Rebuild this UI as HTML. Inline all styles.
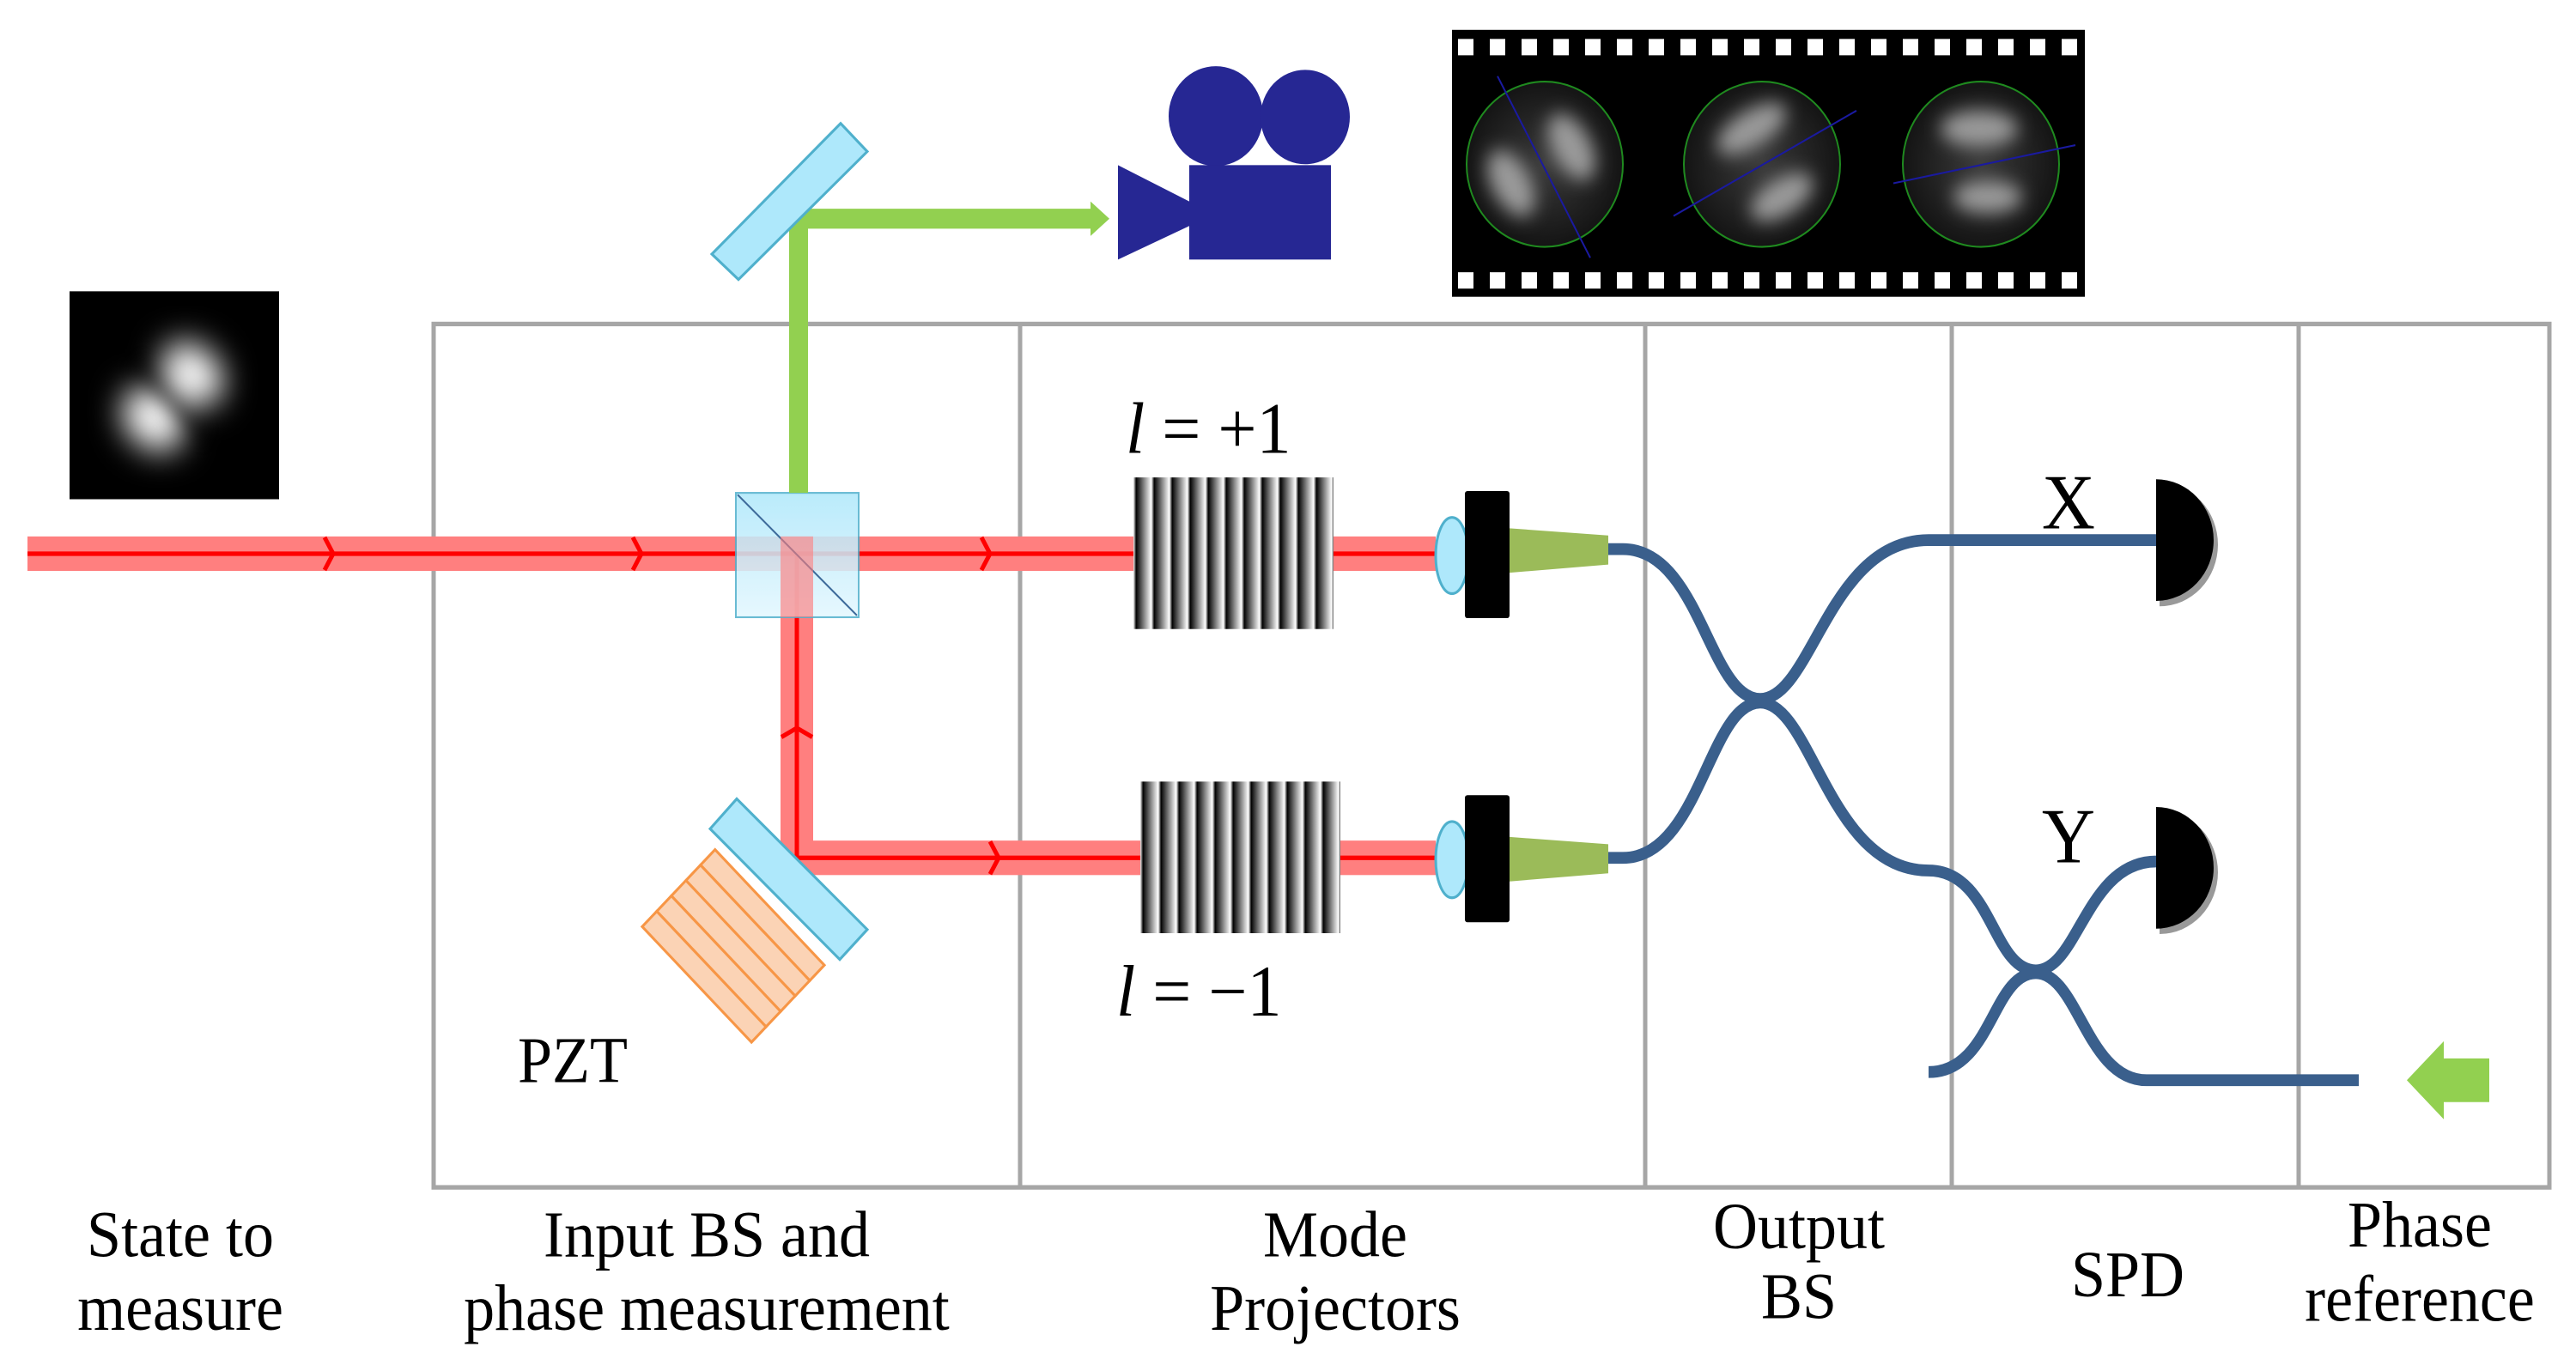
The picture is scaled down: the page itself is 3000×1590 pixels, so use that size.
<!DOCTYPE html>
<html><head><meta charset="utf-8"><style>
html,body{margin:0;padding:0;background:#fff}
svg{display:block}
text{font-family:"Liberation Serif","DejaVu Serif",serif;fill:#000}
</style></head><body>
<svg width="3000" height="1590" viewBox="0 0 3000 1590" xmlns="http://www.w3.org/2000/svg" font-family="Liberation Serif, DejaVu Serif, serif">
<defs>
<filter id="b1" x="-50%" y="-50%" width="200%" height="200%"><feGaussianBlur stdDeviation="18"/></filter>
<filter id="b2" x="-50%" y="-50%" width="200%" height="200%"><feGaussianBlur stdDeviation="10"/></filter>
<linearGradient id="cube" x1="0" y1="0" x2="0" y2="1"><stop offset="0" stop-color="#aee8fb"/><stop offset="1" stop-color="#e3f7fe"/></linearGradient>
<radialGradient id="dk"><stop offset="0" stop-color="#3a3a3a"/><stop offset="1" stop-color="#141414"/></radialGradient>
<pattern id="hp" width="21" height="200" patternUnits="userSpaceOnUse"><rect width="21" height="200" fill="url(#hg)"/></pattern>
<linearGradient id="hg" x1="0" x2="1"><stop offset="0" stop-color="#000"/><stop offset="0.85" stop-color="#fff"/><stop offset="1" stop-color="#111"/></linearGradient>
</defs>
<g transform="translate(0,2) scale(1,1.0575)">
<g fill="none" stroke="#a6a6a6" stroke-width="5">
<rect x="505" y="355" width="2464" height="951"/>
<line x1="1188" y1="355" x2="1188" y2="1306"/>
<line x1="1916" y1="355" x2="1916" y2="1306"/>
<line x1="2273" y1="355" x2="2273" y2="1306"/>
<line x1="2677" y1="355" x2="2677" y2="1306"/>
</g>

<rect x="81" y="319" width="244" height="229" fill="#000"/>
<g filter="url(#b1)"><ellipse cx="224" cy="410" rx="40" ry="30" transform="rotate(40 224 410)" fill="#fff"/><ellipse cx="178" cy="460" rx="40" ry="30" transform="rotate(40 178 460)" fill="#fff"/></g>
<line x1="140" y1="380" x2="270" y2="510" stroke="#000" stroke-width="8" filter="url(#b2)"/>

<g>
<rect x="32" y="589" width="1640" height="38" fill="#ff7f7f"/>
<rect x="909" y="608" width="38" height="354" fill="#ff7f7f"/>
<rect x="909" y="924" width="763" height="38" fill="#ff7f7f"/>
<line x1="32" y1="608" x2="1672" y2="608" stroke="#f00" stroke-width="5"/>
<polyline points="928,608 928,943 1672,943" fill="none" stroke="#f00" stroke-width="5"/>
<g fill="none" stroke="#f00" stroke-width="5">
<polyline points="378,590 388,608 378,626"/>
<polyline points="737,590 747,608 737,626"/>
<polyline points="1143,590 1153,608 1143,626"/>
<polyline points="1153,925 1163,943 1153,961"/>
<polyline points="910,810 928,800 946,810"/>
</g>
</g>

<rect x="857" y="541" width="143" height="137" fill="url(#cube)" stroke="#4fb0cc" stroke-width="2" opacity="0.85"/>
<line x1="859" y1="543" x2="998" y2="676" stroke="#3d6a9a" stroke-width="2"/>
<rect x="909" y="589" width="38" height="89" fill="#ff7f7f" opacity="0.6"/>

<polyline points="930,541 930,239 1275,239" fill="none" stroke="#92d050" stroke-width="22"/>
<polygon points="1270,220 1292,239 1270,258" fill="#92d050"/>

<polygon points="979,134 1010,165 860,306 829,278" fill="#aee8fb" stroke="#4fb0cc" stroke-width="3"/>

<g transform="translate(14,-14) rotate(45 893 1001)">
<g fill="#fbd3b5" stroke="#f79646" stroke-width="3">
<rect x="803" y="1016" width="180" height="24"/>
<rect x="803" y="1040" width="180" height="24"/>
<rect x="803" y="1064" width="180" height="24"/>
<rect x="803" y="1088" width="180" height="24"/>
<rect x="803" y="1112" width="180" height="24"/>
</g>
</g>
<polygon points="858,878 1010,1022 978,1055 827,911" fill="#aee8fb" stroke="#4fb0cc" stroke-width="3"/>
<text x="603" y="1190" font-size="72">PZT</text>

<g fill="#262793">
<circle cx="1416" cy="126" r="55"/>
<circle cx="1520" cy="127" r="52"/>
<polygon points="1302,180 1385,220 1385,247 1302,284"/>
<rect x="1385" y="180" width="165" height="104"/>
</g>

<rect x="1691" y="31" width="737" height="294" fill="#000"/>
<g fill="#fff" id="holes">
<rect x="1698" y="41" width="18" height="18"/><rect x="1735" y="41" width="18" height="18"/><rect x="1772" y="41" width="18" height="18"/><rect x="1809" y="41" width="18" height="18"/><rect x="1846" y="41" width="18" height="18"/><rect x="1883" y="41" width="18" height="18"/><rect x="1920" y="41" width="18" height="18"/><rect x="1957" y="41" width="18" height="18"/><rect x="1994" y="41" width="18" height="18"/><rect x="2031" y="41" width="18" height="18"/><rect x="2068" y="41" width="18" height="18"/><rect x="2105" y="41" width="18" height="18"/><rect x="2142" y="41" width="18" height="18"/><rect x="2179" y="41" width="18" height="18"/><rect x="2216" y="41" width="18" height="18"/><rect x="2253" y="41" width="18" height="18"/><rect x="2290" y="41" width="18" height="18"/><rect x="2327" y="41" width="18" height="18"/><rect x="2364" y="41" width="18" height="18"/><rect x="2401" y="41" width="18" height="18"/>
</g>
<use href="#holes" y="257"/>
<g>
<circle cx="1799" cy="179" r="91" fill="url(#dk)" stroke="#1f8a1f" stroke-width="2"/>
<circle cx="2052" cy="179" r="91" fill="url(#dk)" stroke="#1f8a1f" stroke-width="2"/>
<circle cx="2307" cy="179" r="91" fill="url(#dk)" stroke="#1f8a1f" stroke-width="2"/>
<g filter="url(#b2)" fill="#9a9a9a">
<ellipse cx="1830" cy="160" rx="22" ry="40" transform="rotate(-30 1830 160)"/>
<ellipse cx="1760" cy="200" rx="22" ry="40" transform="rotate(-30 1760 200)"/>
<ellipse cx="2040" cy="140" rx="45" ry="20" transform="rotate(-30 2040 140)"/>
<ellipse cx="2075" cy="215" rx="40" ry="20" transform="rotate(-30 2075 215)"/>
<ellipse cx="2305" cy="140" rx="45" ry="20"/>
<ellipse cx="2315" cy="215" rx="40" ry="18"/>
</g>
<g stroke="#1a1aa0" stroke-width="2">
<line x1="1744" y1="82" x2="1852" y2="282"/>
<line x1="1949" y1="236" x2="2162" y2="120"/>
<line x1="2205" y1="200" x2="2417" y2="158"/>
</g>
</g>

<rect x="1320" y="524" width="233" height="167" fill="url(#hp)"/>
<rect x="1320" y="859" width="233" height="167" fill="url(#hp)" transform="translate(8 0)"/>
<text x="1311" y="497" font-size="80"><tspan font-style="italic">l</tspan> = +1</text>
<text x="1300" y="1117" font-size="80"><tspan font-style="italic">l</tspan> = −1</text>

<g>
<ellipse cx="1691" cy="610" rx="19" ry="42" fill="#aee8fb" stroke="#4fb0cc" stroke-width="3"/>
<rect x="1706" y="539" width="52" height="140" rx="3" fill="#000"/>
<polygon points="1758,580 1873,588 1873,620 1758,629" fill="#9bbb59"/>
<ellipse cx="1691" cy="945" rx="19" ry="42" fill="#aee8fb" stroke="#4fb0cc" stroke-width="3"/>
<rect x="1706" y="874" width="52" height="140" rx="3" fill="#000"/>
<polygon points="1758,920 1873,928 1873,960 1758,969" fill="#9bbb59"/>
</g>

<g fill="none" stroke="#3a5f8c" stroke-width="13">
<path d="M1873,603 L1890,603 C1980,603 1990,768 2050,768 C2110,768 2130,593 2246,593 L2511,593"/>
<path d="M1873,943 L1890,943 C1980,943 1990,772 2050,772 C2110,772 2130,957 2246,957 C2320,957 2320,1067 2371,1067 C2420,1067 2430,947 2511,947"/>
<path d="M2246,1179 C2320,1179 2320,1070 2371,1070 C2420,1070 2430,1188 2500,1188 L2747,1188"/>
</g>

<g>
<path d="M2515,530 A68,68 0 0 1 2515,666 Z" fill="#999"/>
<path d="M2511,526 A67,67 0 0 1 2511,660 Z" fill="#000"/>
<path d="M2515,891 A68,68 0 0 1 2515,1027 Z" fill="#999"/>
<path d="M2511,887 A67,67 0 0 1 2511,1021 Z" fill="#000"/>
</g>
<text x="2409" y="580" font-size="86" text-anchor="middle">X</text>
<text x="2409" y="948" font-size="86" text-anchor="middle">Y</text>

<polygon points="2803,1188 2846,1145 2846,1164 2899,1164 2899,1212 2846,1212 2846,1231" fill="#92d050"/>

<g font-size="72" text-anchor="middle">
<text x="210" y="1382">State to</text>
<text x="210" y="1463">measure</text>
<text x="823" y="1382">Input BS and</text>
<text x="823" y="1463">phase measurement</text>
<text x="1555" y="1382">Mode</text>
<text x="1555" y="1463">Projectors</text>
<text x="2095" y="1373">Output</text>
<text x="2095" y="1450">BS</text>
<text x="2478" y="1426">SPD</text>
<text x="2818" y="1371">Phase</text>
<text x="2818" y="1453">reference</text>
</g>
</g>
</svg>
</body></html>
